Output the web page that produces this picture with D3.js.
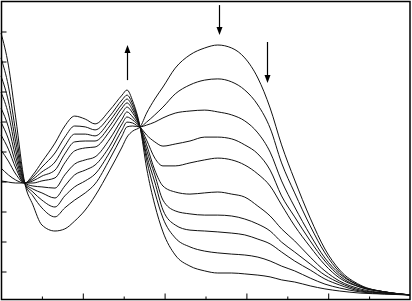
<!DOCTYPE html>
<html>
<head>
<meta charset="utf-8">
<script src="https://cdn.jsdelivr.net/npm/d3@7/dist/d3.min.js"></script>
<style>
    html, body { margin: 0; padding: 0; background: #fff; overflow: hidden; }
    svg { display: block; }
</style>
</head>
<body>
<svg id="chart"></svg>
<script>
'use strict';

// wavelength (nm) of each sample point
const wavelength = [250, 259, 268, 279, 289, 300, 316, 328, 340, 353, 365, 383, 398, 404, 411, 420, 428, 438, 448, 463,
    481, 499, 515, 532, 548, 564, 579, 593, 609, 628, 646, 664, 689, 719, 750];

// absorbance, first scan to last scan
const scan01 = [.895, .788, .612, .395, .322, .255, .235, .242, .268, .305, .352, .438, .515, .548, .568, .582, .628, .675, .715, .778,
    .822, .845, .855, .845, .812, .745, .645, .522, .405, .278, .175, .105, .055, .032, .022];
const scan02 = [.812, .718, .565, .395, .352, .312, .282, .312, .338, .362, .392, .475, .552, .582, .585, .582, .598, .622, .648, .692,
    .722, .738, .742, .732, .705, .655, .578, .462, .362, .252, .162, .098, .052, .032, .022];
const scan03 = [.752, .668, .532, .395, .365, .338, .315, .352, .382, .402, .425, .498, .572, .598, .595, .582, .588, .598, .612, .628,
    .635, .638, .632, .622, .602, .562, .498, .402, .315, .222, .145, .092, .052, .032, .022];
const scan04 = [.698, .625, .505, .395, .375, .362, .345, .385, .422, .438, .455, .518, .592, .615, .605, .582, .555, .532, .518, .525,
    .535, .548, .548, .542, .522, .492, .438, .352, .282, .202, .135, .085, .048, .032, .022];
const scan05 = [.645, .582, .482, .395, .385, .382, .378, .422, .458, .472, .482, .542, .608, .632, .615, .582, .538, .478, .452, .452,
    .462, .472, .478, .472, .455, .425, .385, .322, .252, .182, .122, .078, .048, .032, .022];
const scan06 = [.598, .542, .462, .395, .395, .402, .412, .462, .502, .512, .515, .568, .628, .648, .628, .582, .522, .438, .385, .365,
    .358, .362, .365, .358, .348, .318, .285, .242, .202, .148, .102, .068, .042, .028, .022];
const scan07 = [.555, .508, .445, .395, .402, .418, .438, .492, .532, .535, .535, .585, .645, .662, .638, .582, .505, .422, .338, .302,
    .292, .288, .288, .285, .275, .258, .235, .198, .165, .125, .088, .062, .038, .028, .022];
const scan08 = [.505, .468, .425, .395, .408, .432, .465, .518, .558, .558, .552, .602, .658, .675, .648, .582, .488, .398, .305, .255,
    .238, .235, .232, .228, .222, .208, .192, .165, .135, .105, .075, .055, .035, .028, .022];
const scan09 = [.445, .422, .405, .395, .415, .448, .495, .548, .585, .582, .572, .618, .672, .688, .658, .582, .472, .365, .278, .212,
    .182, .168, .162, .158, .155, .148, .135, .118, .102, .078, .058, .045, .032, .025, .022];
const scan10 = [.402, .398, .395, .395, .422, .465, .528, .585, .618, .608, .592, .638, .688, .705, .668, .582, .445, .322, .232, .155,
    .118, .102, .095, .095, .092, .088, .082, .072, .065, .052, .042, .035, .028, .025, .022];

const scans = [scan01, scan02, scan03, scan04, scan05, scan06, scan07, scan08, scan09, scan10];

// axis ticks (no labels are printed on the original)
const xTicks = [300, 350, 400, 450, 500, 550, 600, 650, 700];
const yTicks = [0.1, 0.2, 0.3, 0.4, 0.5, 0.6, 0.7, 0.8, 0.9];

// arrows showing the trend: [wavelength, from absorbance, to absorbance]
const arrows = [
    [404, 0.738, 0.855],
    [516, 0.988, 0.888],
    [575, 0.865, 0.728]
];

const W = 412;
const H = 301;
const svg = d3.select('#chart').attr('width', W).attr('height', H);

const x = d3.scaleLinear().domain([250, 750]).range([1, 410]);
const y = d3.scaleLinear().domain([0, 1]).range([301.5, 1.5]);

const line = d3.line()
    .x((d, i) => x(wavelength[i]))
    .y(d => y(d))
    .curve(d3.curveMonotoneX);

svg.append('g')
    .selectAll('path')
    .data(scans)
    .enter().append('path')
    .attr('d', line)
    .attr('fill', 'none')
    .attr('stroke', '#111')
    .attr('stroke-width', 1);

// bottom ticks, pointing inward, alternating short/long
const xAxis = svg.append('g')
    .attr('transform', 'translate(0,299.5)')
    .call(d3.axisBottom(x).tickValues(xTicks).tickSize(-6).tickFormat(''));
xAxis.select('.domain').remove();
xAxis.selectAll('.tick line')
    .attr('y2', d => (d % 100 === 50 ? -6 : -3))
    .attr('stroke', '#000');

const yAxis = svg.append('g')
    .attr('transform', 'translate(1.5,0)')
    .call(d3.axisLeft(y).tickValues(yTicks).tickSize(-5).tickFormat(''));
yAxis.select('.domain').remove();
yAxis.selectAll('.tick line').attr('stroke', '#000');

// frame
svg.append('rect')
    .attr('x', 1.5)
    .attr('y', 1.5)
    .attr('width', 408.5)
    .attr('height', 298)
    .attr('fill', 'none')
    .attr('stroke', '#000')
    .attr('stroke-width', 1.5);

// trend arrows
const arrowG = svg.append('g');
arrows.forEach(a => {
    const ax = Math.round(x(a[0])) + 0.5;
    const y0 = y(a[1]);
    const y1 = y(a[2]);
    const dir = y1 < y0 ? -1 : 1;
    arrowG.append('line')
        .attr('x1', ax).attr('y1', y0)
        .attr('x2', ax).attr('y2', y1 - dir * 7)
        .attr('stroke', '#000')
        .attr('stroke-width', 1.2);
    arrowG.append('path')
        .attr('d', 'M' + ax + ',' + y1 +
            'L' + (ax - 3) + ',' + (y1 - dir * 8) +
            'L' + (ax + 3) + ',' + (y1 - dir * 8) + 'Z')
        .attr('fill', '#000');
});
</script>
</body>
</html>
